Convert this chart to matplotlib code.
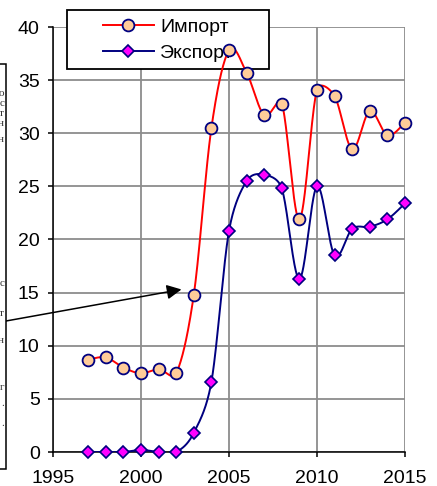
import numpy as np
import matplotlib
matplotlib.use('Agg')
import matplotlib.pyplot as plt
from matplotlib.patches import Rectangle
from matplotlib.lines import Line2D

plt.rcParams['font.family'] = ['Liberation Sans', 'DejaVu Sans']

years = [1997, 1998, 1999, 2000, 2001, 2002, 2003, 2004, 2005, 2006,
         2007, 2008, 2009, 2010, 2011, 2012, 2013, 2014, 2015]
imports = [8.7, 8.9, 7.95, 7.4, 7.8, 7.4, 14.8, 30.5, 37.8, 35.7,
           31.7, 32.8, 21.9, 34.1, 33.5, 28.5, 32.1, 29.8, 31.0]
exports = [0.0, 0.0, 0.0, 0.2, 0.0, 0.0, 1.8, 6.6, 20.8, 25.5,
           26.1, 24.8, 16.3, 25.0, 18.5, 21.0, 21.2, 21.9, 23.4]
labels = ['Импорт', 'Экспорт']
x_ticks = [1995, 2000, 2005, 2010, 2015]
y_ticks = [0, 5, 10, 15, 20, 25, 30, 35, 40]

# clipped text of the side box (right ends of lines only)
frag_chars = ['о', 'с', 'т', 'н', 'н', 'с', 'т', 'н', 'г', '.', '.']
frag_y = [93, 103, 113, 124, 140, 283, 313, 340, 387, 403, 423]

W, H = 437, 486
AX_L, AX_R, AX_T, AX_B = 53, 405, 27, 452
XMIN, XMAX, YMIN, YMAX = 1995, 2015, 0, 40
kx = (AX_R - AX_L) / (XMAX - XMIN)
ky = (AX_B - AX_T) / (YMAX - YMIN)


def smooth(x, y, n=40):
    # Excel "smoothed line": bezier with tangent arms limited to half the segment,
    # computed in screen units
    p = np.column_stack([np.asarray(x, float) * kx, np.asarray(y, float) * ky])
    p = np.vstack([p[:1], p, p[-1:]])
    t = np.linspace(0, 1, n)[:, None]
    out = []
    for i in range(1, len(p) - 2):
        p0, p1, p2, p3 = p[i - 1], p[i], p[i + 1], p[i + 2]
        d12 = np.hypot(*(p2 - p1))
        d02 = np.hypot(*(p2 - p0))
        d13 = np.hypot(*(p3 - p1))
        f1 = 1 / 6 if d02 / 6 < d12 / 2 else d12 / (2 * d02)
        f2 = 1 / 6 if d13 / 6 < d12 / 2 else d12 / (2 * d13)
        c1 = p1 + f1 * (p2 - p0)
        c2 = p2 - f2 * (p3 - p1)
        b = (1 - t) ** 3 * p1 + 3 * (1 - t) ** 2 * t * c1 + 3 * (1 - t) * t ** 2 * c2 + t ** 3 * p2
        out.append(b)
    out = np.vstack(out)
    return out[:, 0] / kx, out[:, 1] / ky


fig = plt.figure(figsize=(W / 100, H / 100), dpi=100)
ax = fig.add_axes([AX_L / W, 1 - AX_B / H, (AX_R - AX_L) / W, (AX_B - AX_T) / H])

navy = '#000080'
sx, sy = smooth(years, imports)
ax.plot(sx, sy, color='red', lw=1.4, zorder=3)
ax.plot(years, imports, ls='none', marker='o', ms=8.5, mfc='#FFCC99', mec=navy,
        mew=1.3, zorder=4, clip_on=False)
sx, sy = smooth(years, exports)
ax.plot(sx, sy, color=navy, lw=1.4, zorder=3)
ax.plot(years, exports, ls='none', marker='D', ms=6.5, mfc='#FF00FF', mec=navy,
        mew=1.2, zorder=4, clip_on=False)

ax.set_xlim(XMIN, XMAX)
ax.set_ylim(YMIN, YMAX)
ax.set_xticks(x_ticks)
ax.set_yticks(y_ticks)
ax.set_axisbelow(True)
ax.grid(True, color='#8c8c8c', lw=1.3)
for s in ['top', 'right']:
    ax.spines[s].set_visible(False)
for s in ['left', 'bottom']:
    ax.spines[s].set_linewidth(1.1)
    ax.spines[s].set_zorder(2)
ax.tick_params(direction='out', length=3.6, width=1.1, labelsize=14)
ax.tick_params(axis='x', pad=9)
ax.tick_params(axis='y', pad=6)

# legend frame drawn under the data lines
frame = Rectangle((67, H - 69), 202, 59, transform=None, fc='white', ec='black',
                  lw=1.3, zorder=1.5, clip_on=False)
ax.add_artist(frame)
handles = [Line2D([], [], color='red', lw=1.4, marker='o', ms=8.5, mfc='#FFCC99', mec=navy, mew=1.3),
           Line2D([], [], color=navy, lw=1.4, marker='D', ms=6.5, mfc='#FF00FF', mec=navy, mew=1.2)]
leg = ax.legend(handles, labels, loc='upper left', bbox_to_anchor=(103 / W, 1 - 18 / H),
                bbox_transform=fig.transFigure, frameon=False, fontsize=14,
                handlelength=2.6, handletextpad=0.35, labelspacing=0.45, borderpad=0,
                borderaxespad=0)
leg.set_zorder(1.6)

# side box partly outside the picture, with its arrow
fig.patches.append(Rectangle((-10, H - 469), 16, 405, transform=None, fc='white',
                             ec='black', lw=1.1, zorder=1))
for ch, yy in zip(frag_chars, frag_y):
    fig.text(4 / W, 1 - yy / H, ch, ha='right', va='center', fontsize=8,
             family='Liberation Serif', color='#333333')
ax.annotate('', xy=(2002.3, 15.3), xycoords='data', xytext=(6, H - 321),
            textcoords='figure pixels',
            arrowprops=dict(arrowstyle='-|>', color='black', lw=1.1,
                            mutation_scale=22, shrinkA=0, shrinkB=0),
            annotation_clip=False)

fig.savefig('out.png', dpi=100)
